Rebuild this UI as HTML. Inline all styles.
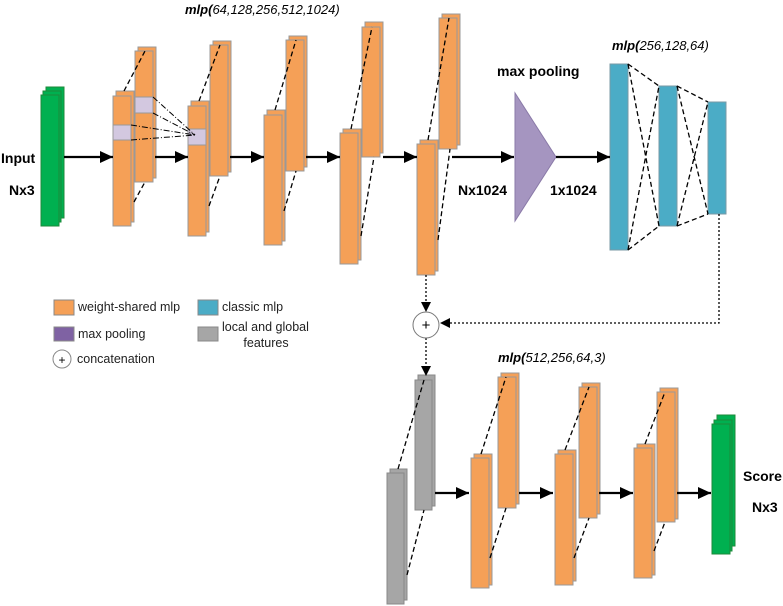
<!DOCTYPE html>
<html><head><meta charset="utf-8"><style>
html,body{margin:0;padding:0;background:#fff}
svg{display:block}
text{font-family:"Liberation Sans",sans-serif}
</style></head><body>
<svg width="783" height="606" viewBox="0 0 783 606" xmlns="http://www.w3.org/2000/svg">
<defs>
<marker id="ah" markerWidth="10" markerHeight="10" refX="9" refY="5" orient="auto" markerUnits="userSpaceOnUse"><path d="M0,0 L10,5 L0,10 z" fill="#000"/></marker>
<marker id="ahs" markerWidth="14" markerHeight="14" refX="13" refY="6" orient="auto" markerUnits="userSpaceOnUse"><path d="M0,0 L13,6 L0,12 z" fill="#000"/></marker>
</defs>
<g stroke="#999" stroke-width="1">
<!-- input green -->
<rect x="46" y="87" width="18" height="131" fill="#00b050" stroke="#1d8a3a"/>
<rect x="43" y="91" width="18" height="131" fill="#00b050" stroke="#1d8a3a"/>
<rect x="41" y="95" width="18" height="131" fill="#00b050" stroke="#1d8a3a"/>
<!-- layer1 -->
<g fill="#f5a057">
<rect x="116" y="91" width="18" height="131"/><rect x="113" y="96" width="18" height="130"/>
<rect x="138" y="47" width="18" height="131"/><rect x="135" y="51" width="18" height="131"/>
<rect x="191" y="101" width="18" height="131"/><rect x="188" y="106" width="18" height="130"/>
<rect x="213" y="41" width="18" height="131"/><rect x="210" y="45" width="18" height="131"/>
<rect x="267" y="110" width="18" height="131"/><rect x="264" y="115" width="18" height="130"/>
<rect x="289" y="36" width="18" height="131"/><rect x="286" y="40" width="18" height="131"/>
<rect x="343" y="129" width="18" height="131"/><rect x="340" y="133" width="18" height="131"/>
<rect x="365" y="22" width="18" height="131"/><rect x="362" y="27" width="18" height="130"/>
<rect x="420" y="140" width="18" height="131"/><rect x="417" y="144" width="18" height="131"/>
<rect x="442" y="14" width="18" height="131"/><rect x="439" y="18" width="18" height="131"/>
<!-- bottom -->
<rect x="474" y="454" width="18" height="131"/><rect x="471" y="458" width="18" height="130"/>
<rect x="501" y="373" width="18" height="131"/><rect x="498" y="377" width="18" height="131"/>
<rect x="558" y="450" width="18" height="131"/><rect x="555" y="454" width="18" height="131"/>
<rect x="582" y="383" width="18" height="131"/><rect x="579" y="387" width="18" height="131"/>
<rect x="637" y="444" width="18" height="131"/><rect x="634" y="448" width="18" height="130"/>
<rect x="660" y="388" width="18" height="131"/><rect x="657" y="392" width="18" height="130"/>
</g>
<g fill="#d3c8e0">
<rect x="113" y="125" width="18" height="15"/><rect x="135" y="97" width="18" height="16"/><rect x="188" y="129" width="18" height="16"/>
</g>
<!-- gray -->
<g fill="#a6a6a6" stroke="#888">
<rect x="390" y="469" width="17" height="131"/><rect x="387" y="473" width="17" height="131"/>
<rect x="418" y="375" width="17" height="131"/><rect x="415" y="380" width="17" height="130"/>
</g>
<!-- output green -->
<rect x="717" y="415" width="18" height="131" fill="#00b050" stroke="#1d8a3a"/>
<rect x="714" y="420" width="18" height="131" fill="#00b050" stroke="#1d8a3a"/>
<rect x="712" y="424" width="18" height="130" fill="#00b050" stroke="#1d8a3a"/>
<!-- blue -->
<g fill="#4bacc6" stroke="#7a9aa5">
<rect x="610" y="64" width="18" height="186"/><rect x="659" y="86" width="18" height="140"/><rect x="708" y="102" width="18" height="112"/>
</g>
<polygon points="515,93 515,221 556,157" fill="#a595c0" stroke="#8a7aa8"/>
</g>
<!-- dashed connectors -->
<g stroke="#000" stroke-width="1.3" stroke-dasharray="5,3" fill="none">
<line x1="124" y1="91" x2="145" y2="51"/><line x1="134" y1="202" x2="145" y2="182"/>
<line x1="199" y1="101" x2="220" y2="45"/><line x1="209" y1="206" x2="220" y2="176"/>
<line x1="275" y1="110" x2="296" y2="40"/><line x1="284" y1="211" x2="296" y2="171"/>
<line x1="351" y1="129" x2="372" y2="27"/><line x1="361" y1="236" x2="374" y2="157"/>
<line x1="428" y1="140" x2="449" y2="18"/><line x1="438" y1="240" x2="450" y2="149"/>
<line x1="398" y1="469" x2="424" y2="380"/><line x1="407" y1="575" x2="424" y2="510"/>
<line x1="481" y1="454" x2="506" y2="377"/><line x1="490" y1="558" x2="506" y2="508"/>
<line x1="565" y1="450" x2="589" y2="387"/><line x1="574" y1="558" x2="589" y2="518"/>
<line x1="645" y1="444" x2="665" y2="392"/><line x1="654" y1="551" x2="665" y2="522"/>
<line x1="628" y1="64" x2="659" y2="86"/><line x1="628" y1="64" x2="659" y2="226"/>
<line x1="628" y1="250" x2="659" y2="86"/><line x1="628" y1="250" x2="659" y2="226"/>
<line x1="677" y1="86" x2="708" y2="102"/><line x1="677" y1="86" x2="708" y2="214"/>
<line x1="677" y1="226" x2="708" y2="102"/><line x1="677" y1="226" x2="708" y2="214"/>
</g>
<g stroke="#000" stroke-width="1" stroke-dasharray="6,2,1,2" fill="none">
<line x1="153" y1="97" x2="195" y2="135"/><line x1="153" y1="113" x2="195" y2="135"/>
<line x1="131" y1="125" x2="195" y2="135"/><line x1="131" y1="140" x2="195" y2="135"/>
</g>
<!-- arrows -->
<g stroke="#000" stroke-width="2.2" marker-end="url(#ahs)">
<line x1="64" y1="157" x2="113" y2="157"/><line x1="155" y1="157" x2="188" y2="157"/>
<line x1="230" y1="157" x2="264" y2="157"/><line x1="306" y1="157" x2="340" y2="157"/>
<line x1="383" y1="157" x2="417" y2="157"/><line x1="452" y1="157" x2="514" y2="157"/>
<line x1="556" y1="157" x2="610" y2="157"/>
<line x1="435" y1="493" x2="469" y2="493"/><line x1="519" y1="493" x2="553" y2="493"/>
<line x1="599" y1="493" x2="633" y2="493"/><line x1="677" y1="493" x2="711" y2="493"/>
</g>
<g stroke="#000" stroke-width="1.3" stroke-dasharray="2,2" fill="none">
<line x1="426" y1="275" x2="426" y2="303"/><line x1="426" y1="338" x2="426" y2="367"/>
<polyline points="719,214 719,323 450,323"/>
</g>
<path d="M421,302 L431,302 L426,312 z"/><path d="M421,366 L431,366 L426,376 z"/><path d="M440,323 L450,318 L450,328 z"/>
<circle cx="426" cy="325" r="13" fill="#fff" stroke="#777"/>
<text x="426" y="330" font-size="15" text-anchor="middle">+</text>
<!-- labels -->
<g font-weight="bold" font-size="14">
<text x="1" y="163">Input</text><text x="9" y="195">Nx3</text>
<text x="497" y="76">max pooling</text>
<text x="458" y="195">Nx1024</text><text x="550" y="195">1x1024</text>
<text x="743" y="481">Score</text><text x="752" y="512">Nx3</text>
</g>
<g font-style="italic" font-size="13">
<text x="185" y="14"><tspan font-weight="bold">mlp(</tspan>64,128,256,512,1024)</text>
<text x="612" y="50"><tspan font-weight="bold">mlp(</tspan>256,128,64)</text>
<text x="498" y="362"><tspan font-weight="bold">mlp(</tspan>512,256,64,3)</text>
</g>
<!-- legend -->
<g stroke="#888">
<rect x="54" y="300" width="20" height="15" fill="#f5a057"/>
<rect x="54" y="327" width="20" height="14" fill="#7f62a3"/>
<rect x="198" y="300" width="20" height="15" fill="#4bacc6"/>
<rect x="198" y="327" width="20" height="14" fill="#a6a6a6"/>
<circle cx="62" cy="359" r="9" fill="#fff"/>
</g>
<text x="62" y="364" font-size="12" text-anchor="middle">+</text>
<g font-size="12.5" fill="#222">
<text x="78" y="311">weight-shared mlp</text>
<text x="78" y="338">max pooling</text>
<text x="77" y="363">concatenation</text>
<text x="222" y="311">classic mlp</text>
<text x="222" y="331">local and global</text>
<text x="266" y="347" text-anchor="middle">features</text>
</g>
</svg>
</body></html>
